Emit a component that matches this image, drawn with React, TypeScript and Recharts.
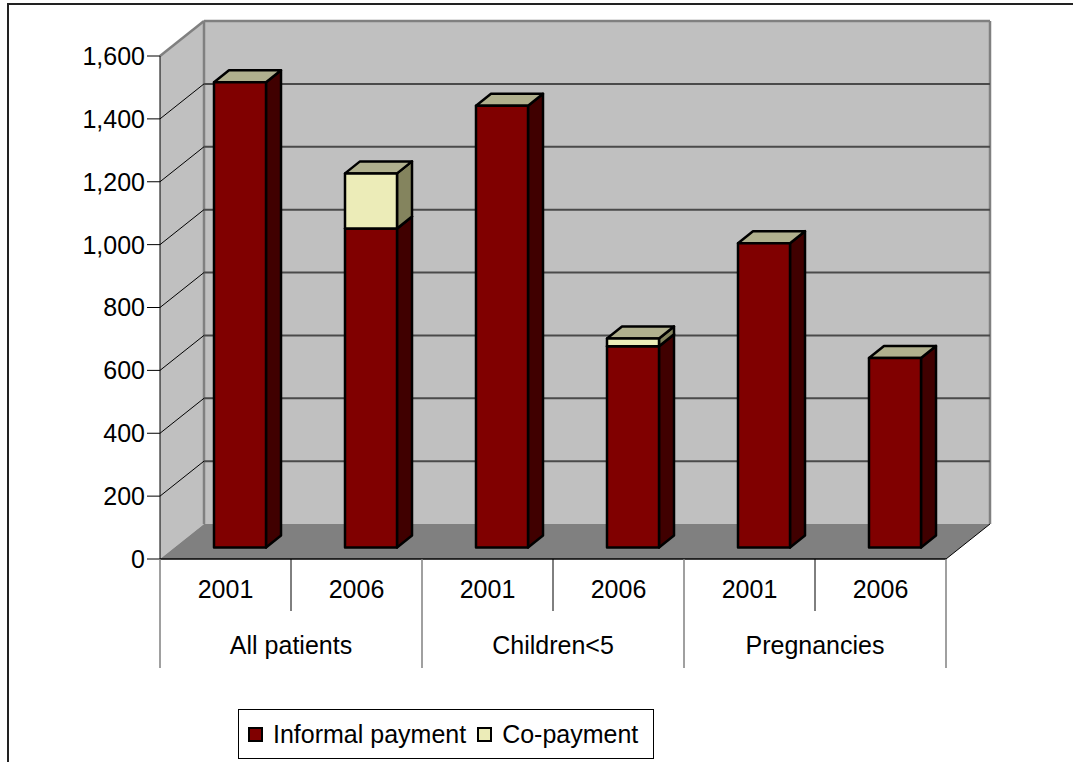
import { BarChart, Bar, XAxis, YAxis, CartesianGrid, Legend } from 'recharts';

const groups = ['All patients', 'All patients', 'Children<5', 'Children<5', 'Pregnancies', 'Pregnancies'];
const years = ['2001', '2006', '2001', '2006', '2001', '2006'];
const informal = [1480, 1015, 1405, 640, 968, 603];
const copay = [0, 175, 0, 25, 0, 0];
const yTicks = [0, 200, 400, 600, 800, 1000, 1200, 1400, 1600];

const data = years.map((year, i) => ({
  id: groups[i] + ' ' + year,
  year,
  group: groups[i],
  informal: informal[i],
  copay: copay[i],
}));

// layout
const W = 1073;
const H = 762;
const PLOT_LEFT = 160;
const PLOT_TOP = 56;
const PLOT_W = 786;
const PLOT_H = 503;
const Y_AXIS_W = 60;
const X_AXIS_H = 110;
const FONT = '"Liberation Sans", Arial, sans-serif';
const FS = 25;

// 3d look
const WALL_DX = 44;
const WALL_DY = 35;
const SHIFT_X = 14;
const SHIFT_Y = 11.5;
const BAR_DX = 15;
const BAR_DY = 12;

const makeBox = (front: string, side: string, top: string) => (props: any) => {
  const { x, y, width, height } = props;
  if (!height || height <= 0) return <g />;
  const fx = x + SHIFT_X;
  const fy = y - SHIFT_Y;
  const fr = fx + width;
  const fb = fy + height;
  return (
    <g stroke="#000" strokeWidth={2.5} strokeLinejoin="round">
      <polygon points={`${fr},${fy} ${fr + BAR_DX},${fy - BAR_DY} ${fr + BAR_DX},${fb - BAR_DY} ${fr},${fb}`} fill={side} />
      <polygon points={`${fx},${fy} ${fx + BAR_DX},${fy - BAR_DY} ${fr + BAR_DX},${fy - BAR_DY} ${fr},${fy}`} fill={top} />
      <rect x={fx} y={fy} width={width} height={height} fill={front} />
    </g>
  );
};

const InformalBox = makeBox('#800000', '#400000', '#b0b08e');
const CopayBox = makeBox('#ececb8', '#84845e', '#b0b08e');

const Walls = ({ x, y, width, height }: any) => {
  const x2 = x + width;
  const y2 = y + height;
  return (
    <g>
      <polygon points={`${x},${y} ${x + WALL_DX},${y - WALL_DY} ${x + WALL_DX},${y2 - WALL_DY} ${x},${y2}`} fill="#c0c0c0" />
      <rect x={x + WALL_DX} y={y - WALL_DY} width={width} height={height} fill="#c0c0c0" />
      <polygon points={`${x},${y2} ${x + WALL_DX},${y2 - WALL_DY} ${x2 + WALL_DX},${y2 - WALL_DY} ${x2},${y2}`} fill="#808080" />
      <g stroke="#808080" strokeWidth={2.5} fill="none">
        <line x1={x} y1={y} x2={x + WALL_DX} y2={y - WALL_DY} />
        <line x1={x + WALL_DX} y1={y - WALL_DY} x2={x2 + WALL_DX} y2={y - WALL_DY} />
        <line x1={x + WALL_DX} y1={y - WALL_DY} x2={x + WALL_DX} y2={y2 - WALL_DY} />
        <line x1={x2 + WALL_DX} y1={y - WALL_DY} x2={x2 + WALL_DX} y2={y2 - WALL_DY} />
      </g>
      <line x1={x2} y1={y2} x2={x2 + WALL_DX} y2={y2 - WALL_DY} stroke="#000" strokeWidth={1} />
    </g>
  );
};

const GridLine = (props: any) => {
  const { x1, y1, x2, index } = props;
  const top = props.y ?? PLOT_TOP;
  const h = props.height ?? PLOT_H;
  const edge = Math.abs(y1 - top) < 1 || Math.abs(y1 - (top + h)) < 1;
  return (
    <g key={props.key ?? index}>
      {index === 0 && <Walls x={x1} y={top} width={x2 - x1} height={h} />}
      {!edge && (
        <g>
          <line x1={x1 + WALL_DX} y1={y1 - WALL_DY} x2={x2 + WALL_DX} y2={y1 - WALL_DY} stroke="#4a4a4a" strokeWidth={2} />
          <line x1={x1} y1={y1} x2={x1 + WALL_DX} y2={y1 - WALL_DY} stroke="#000" strokeWidth={1} />
        </g>
      )}
    </g>
  );
};

const CategoryTick = (props: any) => {
  const { x, y, payload } = props;
  const i = payload.index;
  const band = PLOT_W / years.length;
  const left = x - band / 2;
  const right = x + band / 2;
  const isFirst = i % 2 === 0;
  return (
    <g fontFamily={FONT} fontSize={FS} fill="#000">
      <text x={x} y={y + 39} textAnchor="middle">{years[i]}</text>
      {isFirst ? (
        <>
          <line x1={left} y1={y} x2={left} y2={y + 109} stroke="#808080" strokeWidth={1.5} />
          <text x={right} y={y + 95} textAnchor="middle">{groups[i]}</text>
        </>
      ) : (
        <line x1={left} y1={y} x2={left} y2={y + 52} stroke="#000" strokeWidth={1} />
      )}
      {i === years.length - 1 && (
        <line x1={right} y1={y} x2={right} y2={y + 109} stroke="#808080" strokeWidth={1.5} />
      )}
    </g>
  );
};

const swatch = (color: string) => (
  <span
    style={{
      display: 'inline-block',
      width: 15,
      height: 15,
      boxSizing: 'border-box',
      border: '2px solid #000',
      background: color,
      marginRight: 10,
    }}
  />
);

const LegendBox = () => (
  <div
    style={{
      width: 416,
      height: 50,
      boxSizing: 'border-box',
      border: '1px solid #000',
      background: '#fff',
      display: 'flex',
      alignItems: 'center',
      paddingLeft: 9,
      fontFamily: FONT,
      fontSize: FS,
      color: '#000',
      whiteSpace: 'nowrap',
    }}
  >
    {swatch('#800000')}
    <span style={{ marginRight: 11 }}>Informal payment</span>
    {swatch('#ececb8')}
    <span>Co-payment</span>
  </div>
);

export default function App() {
  return (
    <div style={{ position: 'absolute', left: 0, top: 0, width: W, height: H, background: '#fff', fontFamily: FONT }}>
      <div
        style={{
          position: 'absolute',
          left: 7,
          top: 3,
          width: W - 7,
          height: H,
          borderTop: '2px solid #222',
          borderLeft: '2px solid #222',
        }}
      />
      <BarChart
        width={W}
        height={H}
        data={data}
        margin={{
          top: PLOT_TOP,
          left: PLOT_LEFT - Y_AXIS_W,
          right: W - PLOT_LEFT - PLOT_W,
          bottom: H - PLOT_TOP - PLOT_H - X_AXIS_H,
        }}
      >
        <CartesianGrid vertical={false} horizontal={GridLine} />
        <XAxis
          dataKey="id"
          interval={0}
          height={X_AXIS_H}
          tickLine={false}
          tickSize={0}
          tickMargin={0}
          axisLine={{ stroke: '#000', strokeWidth: 1.5 }}
          tick={CategoryTick}
        />
        <YAxis
          width={Y_AXIS_W}
          domain={[0, 1600]}
          ticks={yTicks}
          interval={0}
          tickSize={13}
          tickMargin={2}
          axisLine={{ stroke: '#000' }}
          tickLine={{ stroke: '#000' }}
          tick={{ fill: '#000', fontSize: FS, fontFamily: FONT }}
          tickFormatter={(v: number) => v.toLocaleString('en-US')}
        />
        <Bar dataKey="informal" name="Informal payment" stackId="a" barSize={52} shape={InformalBox} isAnimationActive={false} />
        <Bar dataKey="copay" name="Co-payment" stackId="a" barSize={52} shape={CopayBox} isAnimationActive={false} />
        <Legend
          layout="horizontal"
          verticalAlign="middle"
          align="center"
          content={LegendBox}
          wrapperStyle={{ left: 238, top: 709, width: 416, height: 50 }}
        />
      </BarChart>
    </div>
  );
}
